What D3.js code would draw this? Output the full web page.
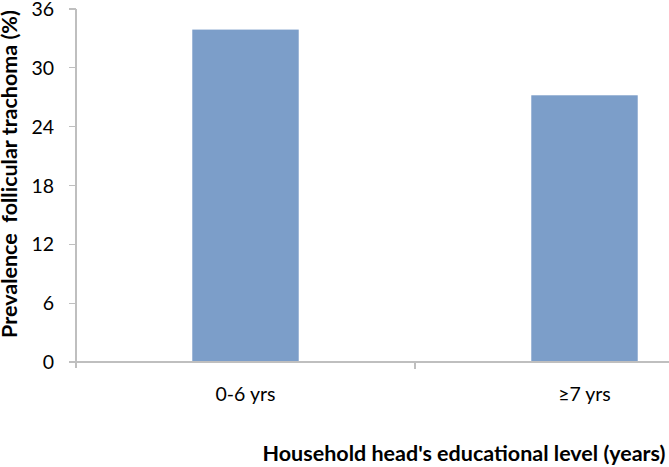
<!DOCTYPE html>
<html><head><meta charset="utf-8">
<script src="https://cdn.jsdelivr.net/npm/d3@7"></script>
<style>body{margin:0;background:#fff}svg{display:block}</style>
</head><body>
<svg id="c" width="669" height="467"></svg>
<script>
const categories = ["0-6 yrs", "\u22657 yrs"];
const values = [33.9, 27.2];
const yTicks = [0, 6, 12, 18, 24, 30, 36];
const yTitle = "Prevalence  follicular trachoma (%)";
const xTitle = "Household head's educational level (years)";

const svg = d3.select("#c");
const font = "Lato, 'Open Sans', sans-serif";
const axisColor = "#bfbfbf";
const x0 = 76, x1 = 754, yTop = 9, yBot = 362;

const y = d3.scaleLinear().domain([0, 36]).range([yBot, yTop]);
const x = d3.scaleBand().domain(categories).range([x0, x1]).paddingInner(0.686).paddingOuter(0.343);
const xb = d3.scaleBand().domain(categories).range([x0, x1]).padding(0);

// bars
svg.selectAll("rect.bar").data(values).join("rect")
  .attr("class", "bar")
  .attr("x", (d, i) => x(categories[i]))
  .attr("width", x.bandwidth())
  .attr("y", d => y(d))
  .attr("height", d => y(0) - y(d))
  .attr("fill", "#7c9ec9");

// axes
const g = svg.append("g").attr("stroke", axisColor).attr("stroke-width", 1.3).attr("shape-rendering", "crispEdges");
g.append("line").attr("x1", x0).attr("x2", x0).attr("y1", y(36)).attr("y2", yBot + 6);
g.selectAll("line.yt").data(yTicks).join("line").attr("class", "yt")
  .attr("x1", x0 - 7).attr("x2", x0).attr("y1", d => y(d)).attr("y2", d => y(d));
g.append("line").attr("x1", x0).attr("x2", 669).attr("y1", yBot).attr("y2", yBot);
g.selectAll("line.xt").data(categories).join("line").attr("class", "xt")
  .attr("x1", d => xb(d) + xb.bandwidth()).attr("x2", d => xb(d) + xb.bandwidth())
  .attr("y1", yBot).attr("y2", yBot + 7);

// y tick labels
svg.selectAll("text.yl").data(yTicks).join("text").attr("class", "yl")
  .attr("x", 54).attr("y", d => y(d)).attr("dy", "0.36em")
  .attr("text-anchor", "end").attr("font-family", font).attr("font-size", 19.5)
  .attr("fill", "#000").text(d => d);

// x tick labels
svg.selectAll("text.xl").data(categories).join("text").attr("class", "xl")
  .attr("x", d => x(d) + x.bandwidth() / 2).attr("y", 401)
  .attr("text-anchor", "middle").attr("font-family", font).attr("font-size", 19.5)
  .attr("fill", "#000").text(d => d);

// titles
svg.append("text").attr("x", 464).attr("y", 461).attr("text-anchor", "middle")
  .attr("font-family", font).attr("font-size", 21.5).attr("font-weight", "bold")
  .attr("fill", "#000").text(xTitle);
svg.append("text").attr("transform", "translate(16.5,174) rotate(-90)").attr("text-anchor", "middle")
  .attr("font-family", font).attr("font-size", 21.5).attr("font-weight", "bold")
  .attr("fill", "#000").style("white-space", "pre").text(yTitle);
</script>
</body></html>
